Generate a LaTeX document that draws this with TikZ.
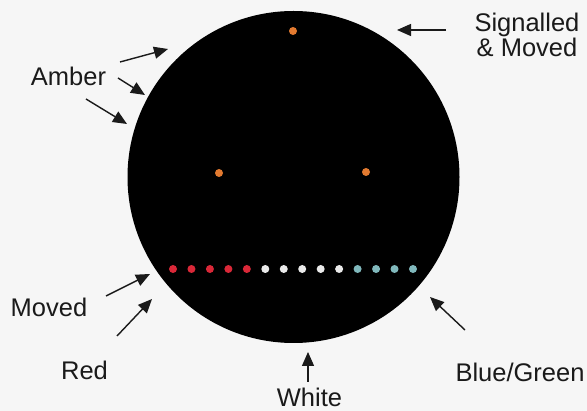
\documentclass[tikz,border=0pt]{standalone}
\usepackage{fontspec}
\setmainfont{Liberation Sans}
\usetikzlibrary{arrows.meta}
\definecolor{bgc}{HTML}{F6F6F6}
\definecolor{inkc}{HTML}{1A1A1A}
\definecolor{ambc}{HTML}{E27A30}
\definecolor{redc}{HTML}{DA2838}
\definecolor{whtc}{HTML}{EAEAEA}
\definecolor{bluc}{HTML}{80B8BC}
\begin{document}
\begin{tikzpicture}[x=1pt,y=-1pt,
  lbl/.style={font=\fontsize{25.5}{25}\selectfont, text=inkc, inner sep=0pt},
  pointer/.style={draw=inkc, line width=1.4pt, -{Triangle[length=14pt,width=12pt]}},
  lamp/.style={circle, inner sep=0pt, minimum size=8pt}]
  \fill[bgc] (0,0) rectangle (587,411);
  \useasboundingbox (0,0) rectangle (587,411);
  % disc
  \node[circle, fill=black, minimum size=332pt, inner sep=0pt] (disc) at (293.5,177) {};
  % amber lamps
  \node[lamp, fill=ambc] (a1) at (293,31) {};
  \node[lamp, fill=ambc] (a2) at (219,173) {};
  \node[lamp, fill=ambc] (a3) at (366,172) {};
  % row of lamps
  \foreach \i in {0,...,4} \node[lamp, fill=redc] (r\i) at ({173+18.46*\i},269) {};
  \foreach \i in {5,...,9} \node[lamp, fill=whtc] (w\i) at ({173+18.46*\i},269) {};
  \foreach \i in {10,...,13} \node[lamp, fill=bluc] (b\i) at ({173+18.46*\i},269) {};
  % labels
  \node[lbl, align=center] (sig) at (527,35) {Signalled\\\& Moved};
  \node[lbl, anchor=base] (amber) at (68.5,86) {Amber};
  \node[lbl, anchor=base] (moved) at (49,317) {Moved};
  \node[lbl, anchor=base] (red) at (84.5,380) {Red};
  \node[lbl, anchor=base] (white) at (309.5,407) {White};
  \node[lbl, anchor=base] (blue) at (520,382) {Blue/Green};
  % arrow ends
  \coordinate (sigT) at (446,30);   \coordinate (sigH) at (397,30);
  \coordinate (am1T) at (120,62);   \coordinate (am1H) at (168,49);
  \coordinate (am2T) at (118,78);   \coordinate (am2H) at (145,95);
  \coordinate (am3T) at (86,99);    \coordinate (am3H) at (127,124);
  \coordinate (movT) at (106,296);  \coordinate (movH) at (150,274);
  \coordinate (redT) at (117,336);  \coordinate (redH) at (152,299);
  \coordinate (whtT) at (308,382);  \coordinate (whtH) at (308,352);
  \coordinate (bluT) at (465,330);  \coordinate (bluH) at (430,297);
  \draw[pointer] (sigT) -- (sigH);
  \draw[pointer] (am1T) -- (am1H);
  \draw[pointer] (am2T) -- (am2H);
  \draw[pointer] (am3T) -- (am3H);
  \draw[pointer] (movT) -- (movH);
  \draw[pointer] (redT) -- (redH);
  \draw[pointer] (whtT) -- (whtH);
  \draw[pointer] (bluT) -- (bluH);
\end{tikzpicture}
\end{document}
